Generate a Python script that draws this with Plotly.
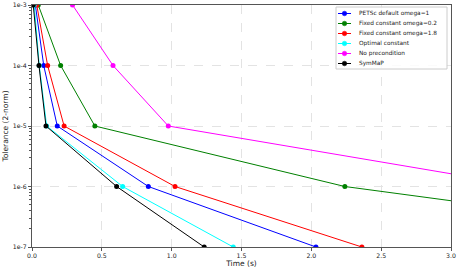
import plotly.graph_objects as go

tol = [1e-3, 1e-4, 1e-5, 1e-6, 1e-7]

t_petsc = [0.024, 0.084, 0.181, 0.833, 2.033]
t_w02 = [0.045, 0.205, 0.45, 2.24, 5.47]
t_w18 = [0.034, 0.112, 0.23, 1.024, 2.362]
t_opt = [0.016, 0.052, 0.105, 0.649, 1.441]
t_none = [0.29, 0.58, 0.976, 3.54]
tol_none = [1e-3, 1e-4, 1e-5, 1e-6]
t_symmap = [0.009, 0.05, 0.1, 0.606, 1.233]

names = ["PETSc default omega=1", "Fixed constant omega=0.2", "Fixed constant omega=1.8",
         "Optimal constant", "No precondition", "SymMaP"]
colors = ["#0000ff", "#008000", "#ff0000", "#00ffff", "#ff00ff", "#000000"]
xs = [t_petsc, t_w02, t_w18, t_opt, t_none, t_symmap]
ys = [tol, tol, tol, tol, tol_none, tol]

W, H = 458, 270
ML, MR, MT, MB = 32, 7, 5, 23
PW, PH = W - ML - MR, H - MT - MB


def px(x):
    return (x - ML) / PW


def py(y):
    return (H - MB - y) / PH


fig = go.Figure()
for n, c, x, y in zip(names, colors, xs, ys):
    fig.add_trace(go.Scatter(x=x, y=y, name=n, mode="lines+markers",
                             line=dict(color=c, width=1),
                             marker=dict(color=c, size=5), showlegend=False))

font = "DejaVu Sans"

# manual legend (matplotlib-like compact box)
shapes = [dict(type="rect", xref="paper", yref="paper",
               x0=px(336), x1=px(447), y0=py(69), y1=py(7),
               line=dict(color="#cccccc", width=1), fillcolor="rgba(255,255,255,0.85)",
               layer="above")]
annotations = []
for i, (n, c) in enumerate(zip(names, colors)):
    yy = 13.5 + 10 * i
    shapes.append(dict(type="line", xref="paper", yref="paper",
                       x0=px(338), x1=px(351), y0=py(yy), y1=py(yy),
                       line=dict(color=c, width=1), layer="above"))
    r = 2.3
    shapes.append(dict(type="circle", xref="paper", yref="paper",
                       x0=px(344.5 - r), x1=px(344.5 + r), y0=py(yy + r), y1=py(yy - r),
                       line=dict(color=c, width=0.5), fillcolor=c, layer="above"))
    annotations.append(dict(xref="paper", yref="paper", x=px(356.5), y=py(yy),
                            xanchor="left", yanchor="middle", showarrow=False,
                            text=n, font=dict(size=5.8, family=font, color="#222")))

fig.update_layout(
    width=W, height=H,
    margin=dict(l=ML, r=MR, t=MT, b=MB),
    paper_bgcolor="white", plot_bgcolor="white",
    font=dict(family=font, size=6.2, color="#222"),
    showlegend=False,
    shapes=shapes, annotations=annotations,
)
fig.update_xaxes(range=[0, 3.0], tickvals=[0, 0.5, 1.0, 1.5, 2.0, 2.5, 3.0],
                 ticktext=["0.0", "0.5", "1.0", "1.5", "2.0", "2.5", "3.0"],
                 showline=True, linecolor="#555", linewidth=1, mirror=True,
                 ticks="outside", ticklen=3, tickcolor="#555",
                 showgrid=True, gridcolor="#e3e3e3", griddash="dash", gridwidth=1,
                 zeroline=False, tickfont=dict(size=6.2),
                 title=dict(text="Time (s)", font=dict(size=7.5, family=font, color="#222"), standoff=2),
                 automargin=False)
fig.update_yaxes(type="log", range=[-7, -3],
                 tickvals=tol, ticktext=["1e-3", "1e-4", "1e-5", "1e-6", "1e-7"],
                 showline=True, linecolor="#555", linewidth=1, mirror=True,
                 ticks="outside", ticklen=3, tickcolor="#555",
                 minor=dict(ticks="outside", ticklen=2, tickcolor="#555", dtick="D1", showgrid=False),
                 showgrid=True, gridcolor="#e3e3e3", griddash="dash", gridwidth=1,
                 zeroline=False, tickfont=dict(size=6.2),
                 title=dict(text="Tolerance (2-norm)", font=dict(size=7.5, family=font, color="#222"), standoff=3),
                 automargin=False)

fig.write_html("out.html", config={"displayModeBar": False},
               post_script="document.body.style.margin='0';")
